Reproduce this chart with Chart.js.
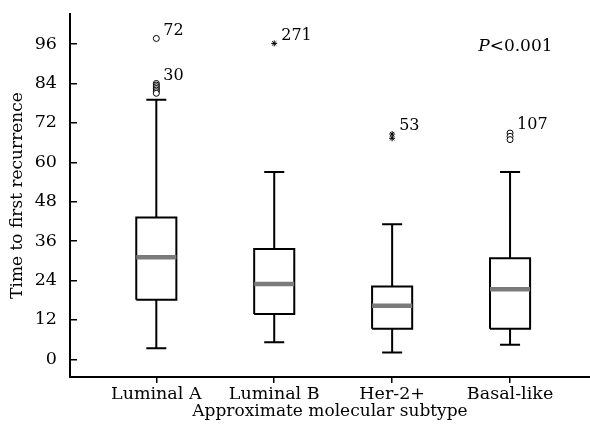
<!DOCTYPE html>
<html>
<head>
<meta charset="utf-8">
<script src="https://cdn.jsdelivr.net/npm/chart.js@4.4.1/dist/chart.umd.min.js"></script>
<style>
  html, body { margin: 0; padding: 0; background: #fff; }
  canvas { display: block; }
</style>
</head>
<body>
<canvas id="chart" width="590" height="428"></canvas>
<script>
// Box plot: time to first recurrence by approximate molecular subtype

const subtypes = ['Luminal A', 'Luminal B', 'Her-2+', 'Basal-like'];
const lowerWhisker = [3.4, 5.2, 2.1, 4.4];
const q1 = [18.1, 13.8, 9.3, 9.3];
const median = [31.1, 22.9, 16.3, 21.3];
const q3 = [43.2, 33.6, 22.2, 30.8];
const upperWhisker = [79.0, 57.0, 41.1, 57.0];

// outliers (o) and extremes (*)
const circleOutliers = [[97.7, 84.0, 83.5, 83.0, 82.5, 82.0, 81.5, 81.0], [], [], [68.9, 67.9, 66.9]];
const starOutliers = [[], [96.2], [68.6, 67.3], []];

// case numbers printed next to outliers
const caseLabels = ['72', '30', '271', '53', '107'];
const caseGroup = [0, 0, 1, 2, 3];
const caseValue = [97.7, 84.0, 96.2, 68.6, 68.9];

const yTicks = [0, 12, 24, 36, 48, 60, 72, 84, 96];
const pValueText = ['P', '<0.001'];

const BOX_HALF = 0.17;
const CAP_HALF = 0.085;
const FONT = '"DejaVu Serif", "Liberation Serif", serif';

function segments(list) {
  // list of point arrays; join with gaps
  const out = [];
  list.forEach(seg => {
    seg.forEach(p => out.push({ x: p[0], y: p[1] }));
    out.push({ x: seg[0][0], y: null });
  });
  return out;
}

const boxSegs = [], whiskerSegs = [], medianSegs = [];
subtypes.forEach((s, i) => {
  const x = i + 1;
  boxSegs.push([[x - BOX_HALF, q1[i]], [x + BOX_HALF, q1[i]], [x + BOX_HALF, q3[i]],
    [x - BOX_HALF, q3[i]], [x - BOX_HALF, q1[i]]]);
  whiskerSegs.push([[x, q3[i]], [x, upperWhisker[i]]]);
  whiskerSegs.push([[x - CAP_HALF, upperWhisker[i]], [x + CAP_HALF, upperWhisker[i]]]);
  whiskerSegs.push([[x, q1[i]], [x, lowerWhisker[i]]]);
  whiskerSegs.push([[x - CAP_HALF, lowerWhisker[i]], [x + CAP_HALF, lowerWhisker[i]]]);
  medianSegs.push([[x - BOX_HALF, median[i]], [x + BOX_HALF, median[i]]]);
});

const circlePts = [], starPts = [];
circleOutliers.forEach((vals, i) => vals.forEach(v => circlePts.push({ x: i + 1, y: v })));
starOutliers.forEach((vals, i) => vals.forEach(v => starPts.push({ x: i + 1, y: v })));

const annotations = {
  id: 'annotations',
  afterDatasetsDraw(chart) {
    const { ctx, scales: { x, y } } = chart;
    ctx.save();
    ctx.fillStyle = '#000';
    ctx.textBaseline = 'middle';
    ctx.textAlign = 'left';
    ctx.font = '16px ' + FONT;
    caseLabels.forEach((t, i) => {
      const px = x.getPixelForValue(caseGroup[i] + 1);
      const py = y.getPixelForValue(caseValue[i]);
      ctx.fillText(t, px + 7, py - 8);
    });
    // P value
    let px = x.getPixelForValue(3.73);
    const py = y.getPixelForValue(95.2);
    ctx.font = 'italic 17px ' + FONT;
    ctx.fillText(pValueText[0], px, py);
    px += ctx.measureText(pValueText[0]).width;
    ctx.font = '17px ' + FONT;
    ctx.fillText(pValueText[1], px, py);
    ctx.restore();
  }
};

function noPadding(axis) {
  axis.paddingTop = 0;
  axis.paddingBottom = 0;
  axis.paddingLeft = 0;
  axis.paddingRight = 0;
}

new Chart(document.getElementById('chart'), {
  type: 'scatter',
  data: {
    datasets: [
      {
        data: segments(medianSegs), showLine: true, spanGaps: false,
        borderColor: '#7b7b7b', borderWidth: 4.5, pointRadius: 0, order: 0
      },
      {
        data: segments(boxSegs), showLine: true, spanGaps: false,
        borderColor: '#000', borderWidth: 2, pointRadius: 0, order: 1
      },
      {
        data: segments(whiskerSegs), showLine: true, spanGaps: false,
        borderColor: '#000', borderWidth: 2, pointRadius: 0, order: 2
      },
      {
        data: circlePts, pointStyle: 'circle', pointRadius: 3,
        borderColor: '#000', backgroundColor: '#fff', borderWidth: 1, order: 0
      },
      {
        data: starPts, pointStyle: 'star', pointRadius: 3,
        borderColor: '#000', borderWidth: 1, order: 0
      }
    ]
  },
  options: {
    responsive: false,
    animation: false,
    layout: { autoPadding: false, padding: { top: 14, right: 0, left: 0, bottom: 0 } },
    plugins: {
      legend: { display: false },
      tooltip: { enabled: false }
    },
    scales: {
      x: {
        type: 'linear',
        min: 0.268,
        max: 4.678,
        afterBuildTicks: axis => { axis.ticks = subtypes.map((s, i) => ({ value: i + 1 })); },
        afterFit: axis => { axis.height = 51; noPadding(axis); },
        ticks: {
          autoSkip: false,
          maxRotation: 0,
          padding: 1,
          color: '#000',
          font: { family: FONT, size: 17.5 },
          callback: v => subtypes[v - 1]
        },
        grid: { drawOnChartArea: false, drawTicks: true, tickLength: 6, color: '#000', lineWidth: 1.5 },
        border: { display: true, color: '#000', width: 2 },
        title: {
          display: true,
          text: 'Approximate molecular subtype',
          color: '#000',
          font: { family: FONT, size: 17 },
          padding: { top: 0, bottom: 6 }
        }
      },
      y: {
        min: -5.39,
        max: 105.15,
        afterBuildTicks: axis => { axis.ticks = yTicks.map(v => ({ value: v })); },
        afterFit: axis => { axis.width = 70; noPadding(axis); },
        ticks: {
          padding: 20,
          color: '#000',
          font: { family: FONT, size: 17.5 }
        },
        grid: { drawOnChartArea: false, drawTicks: true, tickLength: -7, color: '#000', lineWidth: 1.5 },
        border: { display: true, color: '#000', width: 2 },
        title: {
          display: true,
          text: 'Time to first recurrence',
          color: '#000',
          font: { family: FONT, size: 17 },
          padding: { top: 7, bottom: 0 }
        }
      }
    }
  },
  plugins: [annotations]
});
</script>
</body>
</html>
